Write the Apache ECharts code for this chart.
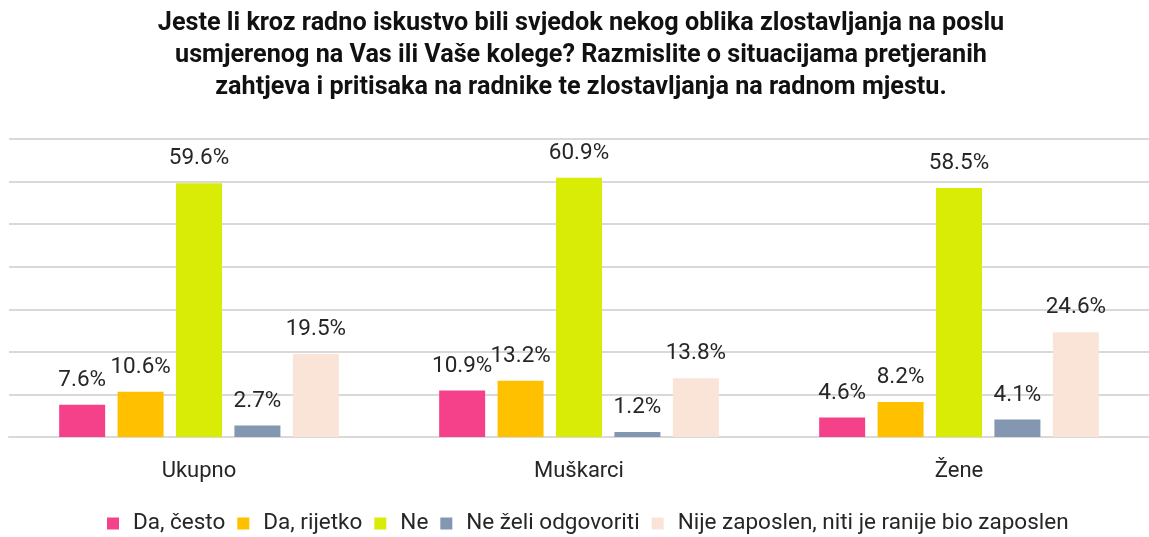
<!DOCTYPE html>
<html>
<head>
<meta charset="utf-8">
<script src="https://cdn.jsdelivr.net/npm/echarts@6/dist/echarts.min.js"></script>
<style>
    html, body { margin: 0; padding: 0; background: #fff; }
    #chart { width: 1149px; height: 537px; }
</style>
</head>
<body>
<div id="chart"></div>
<script>
// podaci
var categories = ['Ukupno', 'Muškarci', 'Žene'];
var daCesto = [7.6, 10.9, 4.6];
var daRijetko = [10.6, 13.2, 8.2];
var ne = [59.6, 60.9, 58.5];
var neZeli = [2.7, 1.2, 4.1];
var nijeZaposlen = [19.5, 13.8, 24.6];

var seriesNames = ['Da, često', 'Da, rijetko', 'Ne', 'Ne želi odgovoriti', 'Nije zaposlen, niti je ranije bio zaposlen'];
var seriesData = [daCesto, daRijetko, ne, neZeli, nijeZaposlen];
var colors = ['#F5408A', '#FFC000', '#D9EC05', '#8497B0', '#FAE4D8'];

var myChart = echarts.init(document.getElementById('chart'));

var series = [];
for (var i = 0; i < seriesNames.length; i++) {
    series.push({
        name: seriesNames[i],
        type: 'bar',
        barWidth: 46,
        barGap: '27%',
        itemStyle: { color: colors[i] },
        label: {
            show: true,
            position: 'top',
            distance: 13,
            color: '#262626',
            fontSize: 22.5,
            fontFamily: 'Roboto',
            formatter: function (p) {
                return p.value.toFixed(1) + '%';
            }
        },
        data: seriesData[i]
    });
}

var option = {
    animation: false,
    title: {
        text: 'Jeste li kroz radno iskustvo bili svjedok nekog oblika zlostavljanja na poslu\n' +
            'usmjerenog na Vas ili Vaše kolege? Razmislite o situacijama pretjeranih\n' +
            'zahtjeva i pritisaka na radnike te zlostavljanja na radnom mjestu.',
        left: 576,
        top: 3,
        textAlign: 'center',
        textStyle: {
            color: '#111',
            fontSize: 25.2,
            fontWeight: 'bold',
            fontFamily: 'Roboto',
            lineHeight: 32
        }
    },
    legend: {
        data: seriesNames,
        bottom: -3,
        left: 102,
        icon: 'rect',
        itemWidth: 12,
        itemHeight: 12,
        itemGap: 12,
        textStyle: {
            color: '#262626',
            fontSize: 22.5,
            fontFamily: 'Roboto',
            padding: [0, 0, 0, 9]
        }
    },
    grid: {
        left: 9,
        width: 1152,
        top: 139,
        bottom: 100,
        containLabel: false
    },
    xAxis: {
        type: 'category',
        data: categories,
        axisTick: { show: false },
        axisLine: { lineStyle: { color: '#d9d9d9', width: 2 } },
        axisLabel: {
            color: '#262626',
            fontSize: 22,
            fontFamily: 'Roboto',
            margin: 23
        }
    },
    yAxis: {
        type: 'value',
        min: 0,
        max: 70,
        interval: 10,
        axisLabel: { show: false },
        axisLine: { show: false },
        axisTick: { show: false },
        splitLine: { lineStyle: { color: '#d9d9d9', width: 2 } }
    },
    series: series
};

myChart.setOption(option);
</script>
</body>
</html>
